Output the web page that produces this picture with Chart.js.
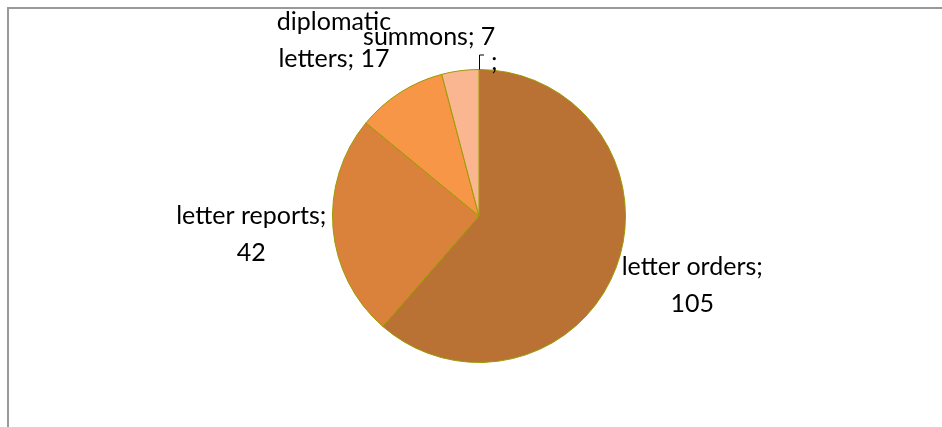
<!DOCTYPE html>
<html>
<head>
<meta charset="utf-8">
<script src="https://cdn.jsdelivr.net/npm/chart.js@4.4.1/dist/chart.umd.min.js"></script>
<style>
  html, body { margin: 0; padding: 0; background: #fff; }
  #wrap { position: relative; width: 942px; height: 427px; overflow: hidden; }
  #frame { position: absolute; left: 7px; top: 7px; width: 960px; height: 460px;
           border-top: 2px solid #999; border-left: 2px solid #999; }
  canvas { position: absolute; left: 0; top: 0; }
</style>
</head>
<body>
<div id="wrap">
  <div id="frame"></div>
  <canvas id="myChart" width="942" height="427"></canvas>
</div>
<script>
const categories = ['letter orders', 'letter reports', 'diplomatic letters', 'summons', ''];
const counts = [105, 42, 17, 7, null];

const sliceColors = ['#B97234', '#DA823C', '#F69646', '#F9B690', '#FCD5B4'];
const edgeColor = '#9C9A00';
const labelFont = '25px Lato, "DejaVu Sans", sans-serif';

// hand placement of the outside labels, like the original's "best fit"
const labelNudge = [[3, -9], [-4, 0], [-24, 14], [-21, 44], [0, 0]];

let wrapText = (ctx, text, maxWidth) => {
    const words = text.split(' ');
    const lines = [];
    let line = '';
    words.forEach(w => {
        const test = line ? line + ' ' + w : w;
        if (line && ctx.measureText(test).width > maxWidth) {
            lines.push(line);
            line = w;
        } else {
            line = test;
        }
    });
    lines.push(line);
    return lines;
};

const outsideLabels = {
    id: 'outsideLabels',
    afterDatasetsDraw(chart) {
        const ctx = chart.ctx;
        const meta = chart.getDatasetMeta(0);
        ctx.save();
        ctx.font = labelFont;
        ctx.fillStyle = '#000';
        ctx.textAlign = 'center';
        ctx.textBaseline = 'middle';
        meta.data.forEach((arc, i) => {
            const p = arc.getProps(['x', 'y', 'startAngle', 'endAngle', 'outerRadius'], true);
            const v = counts[i];
            const text = categories[i] + ';' + (v === null ? '' : ' ' + v);
            if (v === null || v === 0) {
                // empty slice: leader line from the rim to a bare label
                const a = p.startAngle;
                const rx = p.x + Math.cos(a) * p.outerRadius;
                const ry = p.y + Math.sin(a) * p.outerRadius;
                ctx.strokeStyle = '#000';
                ctx.lineWidth = 1;
                ctx.beginPath();
                ctx.moveTo(rx + 0.5, ry);
                ctx.lineTo(rx + 0.5, ry - 14.5);
                ctx.lineTo(rx + 5, ry - 14.5);
                ctx.stroke();
                ctx.textAlign = 'left';
                ctx.fillText(text, rx + 12, ry - 8);
                ctx.textAlign = 'center';
                return;
            }
            const mid = (p.startAngle + p.endAngle) / 2;
            const d = p.outerRadius + 78;
            const cx = p.x + Math.cos(mid) * d + labelNudge[i][0];
            const cy = p.y + Math.sin(mid) * d + labelNudge[i][1];
            const lines = wrapText(ctx, text, 165);
            const lh = 37;
            const top = cy - (lines.length - 1) * lh / 2;
            lines.forEach((ln, k) => ctx.fillText(ln, cx, top + k * lh));
        });
        ctx.restore();
    }
};

const data = {
    labels: categories,
    datasets: [{
        data: counts,
        backgroundColor: sliceColors,
        borderColor: edgeColor,
        borderWidth: 1
    }]
};

const config = {
    type: 'pie',
    data: data,
    options: {
        responsive: false,
        animation: false,
        layout: { padding: { left: 332, right: 316, top: 69, bottom: 64 } },
        plugins: {
            legend: { display: false },
            tooltip: { enabled: false }
        }
    },
    plugins: [outsideLabels]
};

new Chart(document.getElementById('myChart'), config);
</script>
</body>
</html>
